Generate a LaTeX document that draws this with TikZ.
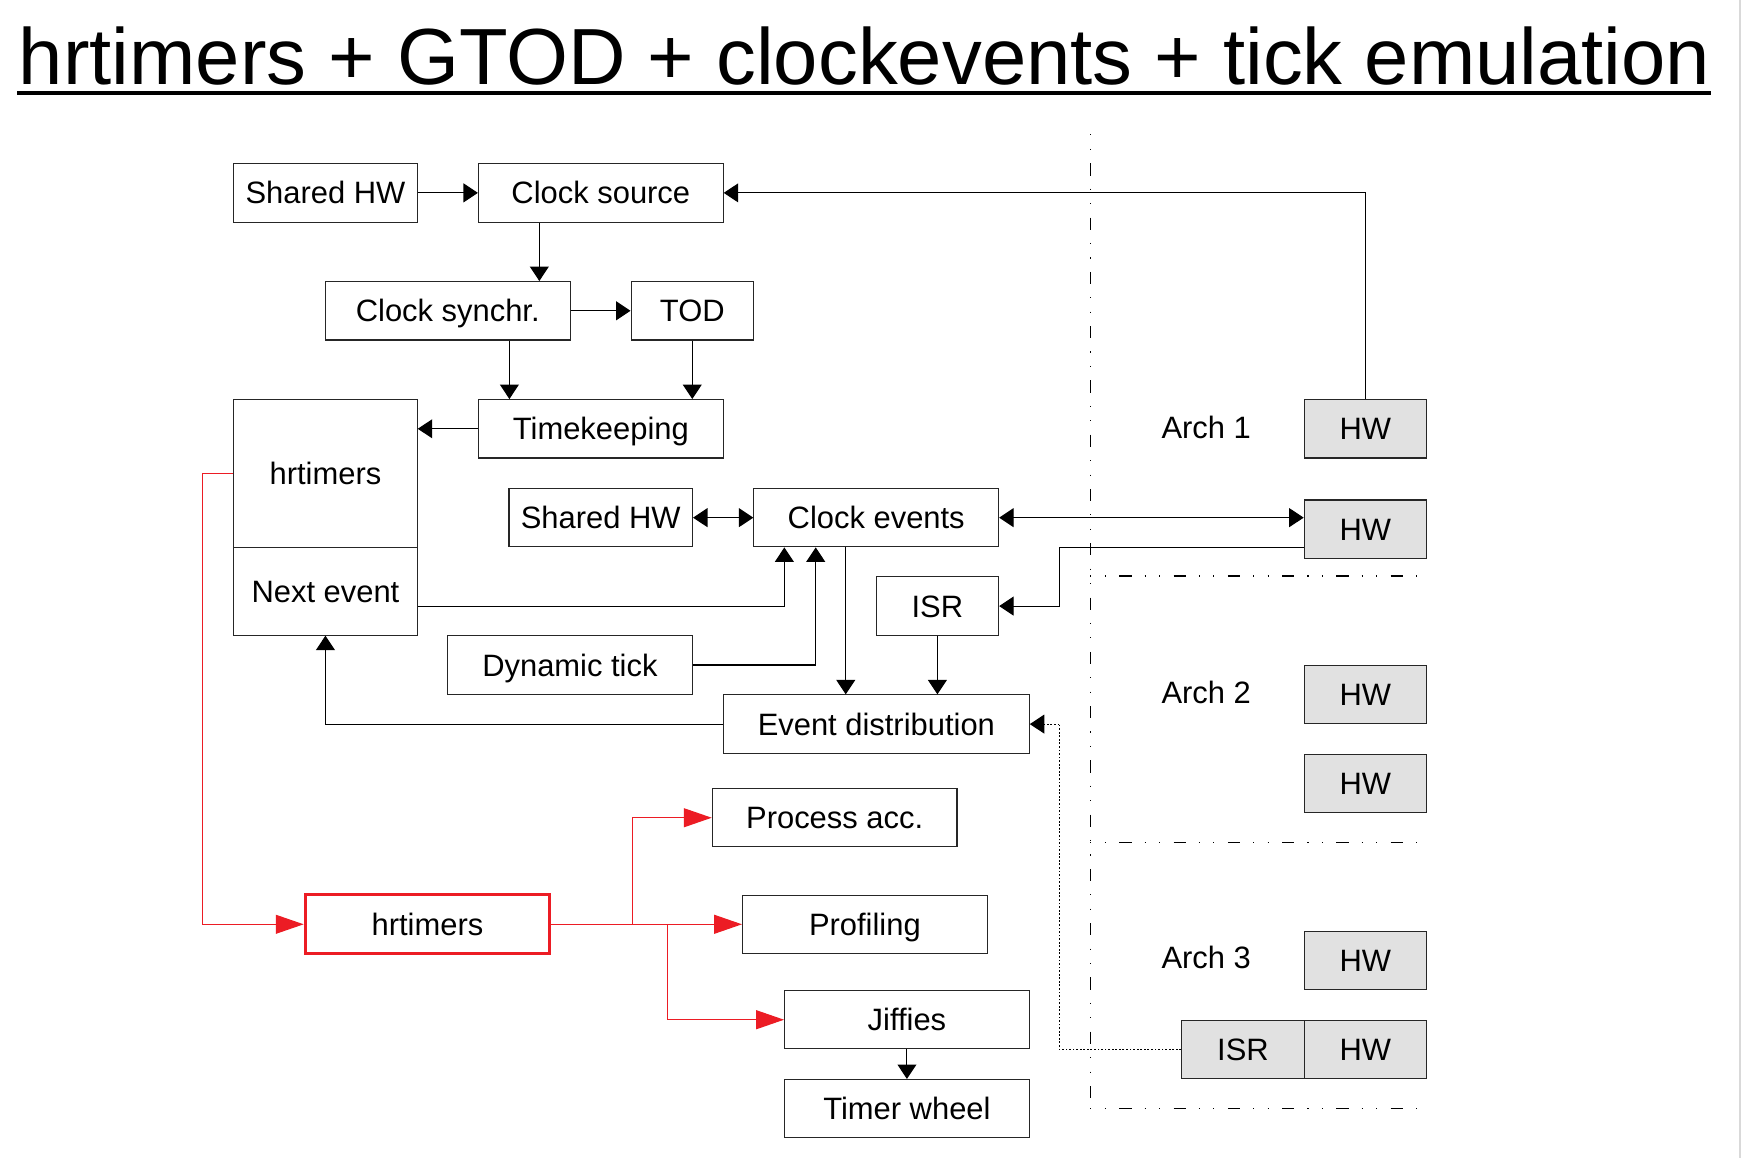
\documentclass[tikz,border=0pt]{standalone}
\usepackage{fontspec}
\setmainfont{Liberation Sans}
\usetikzlibrary{arrows.meta}
\definecolor{boxgray}{RGB}{225,225,225}
\definecolor{redc}{RGB}{236,28,36}
\begin{document}
\begin{tikzpicture}[x=0.5pt,y=-0.5pt,
  box/.style={draw=black!85, line width=0.5pt, minimum height=26.25pt, inner sep=0pt,
              text height=9.95pt, text depth=0pt, font=\fontsize{13.9}{16}\selectfont},
  wA/.style={minimum width=82.5pt},
  wB/.style={minimum width=110pt},
  wC/.style={minimum width=55pt},
  graybox/.style={box, wC, fill=boxgray},
  redbox/.style={box, draw=redc, line width=1.3pt, minimum width=110pt, minimum height=26.5pt},
  arr/.style={line width=0.5pt, -{Triangle[length=6.5pt,width=8.5pt]}},
  dblarr/.style={line width=0.5pt, {Triangle[length=6.5pt,width=8.5pt]}-{Triangle[length=6.5pt,width=8.5pt]}},
  redarr/.style={line width=0.5pt, draw=redc, -{Triangle[length=12.5pt,width=8.5pt,fill=redc]}},
  archsep/.style={line width=0.5pt, dash pattern=on 0.5pt off 6pt on 0.5pt off 6pt on 5.5pt off 5.9pt},
  dotline/.style={line width=0.5pt, dash pattern=on 0.8pt off 0.8pt},
  lbl/.style={inner sep=0pt, font=\fontsize{13.9}{16}\selectfont}
]
\useasboundingbox (0,0) rectangle (1568,1041.2);
\fill[white] (0,0) rectangle (1568,1041.2);
% slide edge
\draw[gray!30, line width=0.75pt] (1564.5,0) -- (1564.5,1041.2);

% title
\node[inner sep=0pt, anchor=base west, font=\fontsize{35.8}{40}\selectfont] (title) at (16.5,76.4)
  {hrtimers + GTOD + clockevents + tick emulation};
\draw[line width=1.8pt] (15.6,84) -- (1538,84);

% nodes
\node[box,wA] (shwA) at (292.6,173.4) {Shared HW};
\node[box,wB] (csrc) at (540.2,173.4) {Clock source};
\node[box,wB] (csync) at (402.6,279.4) {Clock synchr.};
\node[box,wC] (tod) at (622.4,279.4) {TOD};
\node[box,wB] (tk) at (540.2,385.5) {Timekeeping};
\node[box,wA,minimum height=66.5pt] (hrtA) at (292.6,425.5) {hrtimers};
\node[box,wA,minimum height=39.5pt] (next) at (292.6,531.5) {Next event};
\node[box,wA] (shwB) at (540.1,465.4) {Shared HW};
\node[box,wB] (ce) at (787.8,465.4) {Clock events};
\node[box,wC] (isr) at (842.8,544.9) {ISR};
\node[box,wB] (dyn) at (512.4,597.9) {Dynamic tick};
\node[box,minimum width=137.5pt] (evd) at (787.9,651) {Event distribution};
\node[box,wB] (proc) at (750.4,735.2) {Process acc.};
\node[redbox] (hrtR) at (384.3,831) {hrtimers};
\node[box,wB] (prof) at (777.6,831) {Profiling};
\node[box,wB] (jif) at (815.4,916.8) {Jiffies};
\node[box,wB] (tw) at (815.4,996.8) {Timer wheel};

\node[graybox] (hw1) at (1227.6,385.5) {HW};
\node[graybox] (hw2) at (1227.6,475.8) {HW};
\node[graybox] (hw3) at (1227.6,624.6) {HW};
\node[graybox] (hw4) at (1227.6,704.3) {HW};
\node[graybox] (hw5) at (1227.6,863.5) {HW};
\node[graybox] (hw6) at (1227.6,943.5) {HW};
\node[graybox] (isr3) at (1117.5,943.5) {ISR};

\node[lbl, anchor=base west] (arch1) at (1043.9,394) {Arch 1};
\node[lbl, anchor=base west] (arch2) at (1043.9,632.4) {Arch 2};
\node[lbl, anchor=base west] (arch3) at (1043.9,870.6) {Arch 3};

% helper coordinates
\coordinate (xa) at (484.9,0);
\coordinate (xb) at (458,0);
\coordinate (xne) at (705.2,0);
\coordinate (xdt) at (733.4,0);
\coordinate (xce) at (760.4,0);
\coordinate (xisr) at (952.4,0);
\coordinate (yhw) at (0,492.1);
\coordinate (yne) at (0,544.9);
\coordinate (xred) at (181.9,0);
\coordinate (xpa) at (568.4,0);
\coordinate (xji) at (600.2,0);

% separators
\draw[archsep] (980.3,120.8) -- (980.3,996.5);
\draw[archsep] (980.3,517.9) -- (1274,517.9);
\draw[archsep] (980.3,757.4) -- (1274,757.4);
\draw[archsep] (980.3,996.5) -- (1274,996.5);

% connectors
\draw[arr] (shwA) -- (csrc);
\draw[arr] (hw1.north) |- (csrc.east);
\draw[arr] (csrc.south -| xa) -- (csync.north -| xa);
\draw[arr] (csync) -- (tod);
\draw[arr] (csync.south -| xb) -- (tk.north -| xb);
\draw[arr] (tod.south) -- (tk.north -| tod.south);
\draw[arr] (tk.west) -- (tk.west -| hrtA.east);
\draw[dblarr] (shwB) -- (ce);
\draw[dblarr] (ce.east) -- (ce.east -| hw2.west);
\draw[arr] (hw2.west |- yhw) -- (xisr |- yhw) -- (xisr |- isr.east) -- (isr.east);
\draw[arr] (next.east |- yne) -| (ce.south -| xne);
\draw[arr] (dyn.east) -| (ce.south -| xdt);
\draw[arr] (ce.south -| xce) -- (evd.north -| xce);
\draw[arr] (isr.south) -- (isr.south |- evd.north);
\draw[arr] (evd.west) -| (next.south);
\draw[dotline] (isr3.west) -- (xisr |- isr3.west) -- (xisr |- evd.east);
\draw[arr, dotline] (xisr |- evd.east) -- (evd.east);

\draw[redarr] (hrtA.west) -- (hrtA.west -| xred) -- (xred |- hrtR.west) -- (hrtR.west);
\draw[redarr] (hrtR.east) -- (xpa |- hrtR.east) |- (proc.west);
\draw[redarr] (hrtR.east) -- (prof.west);
\draw[redarr] (xji |- hrtR.east) |- (jif.west);
\draw[arr] (jif.south) -- (tw.north);
\end{tikzpicture}
\end{document}
